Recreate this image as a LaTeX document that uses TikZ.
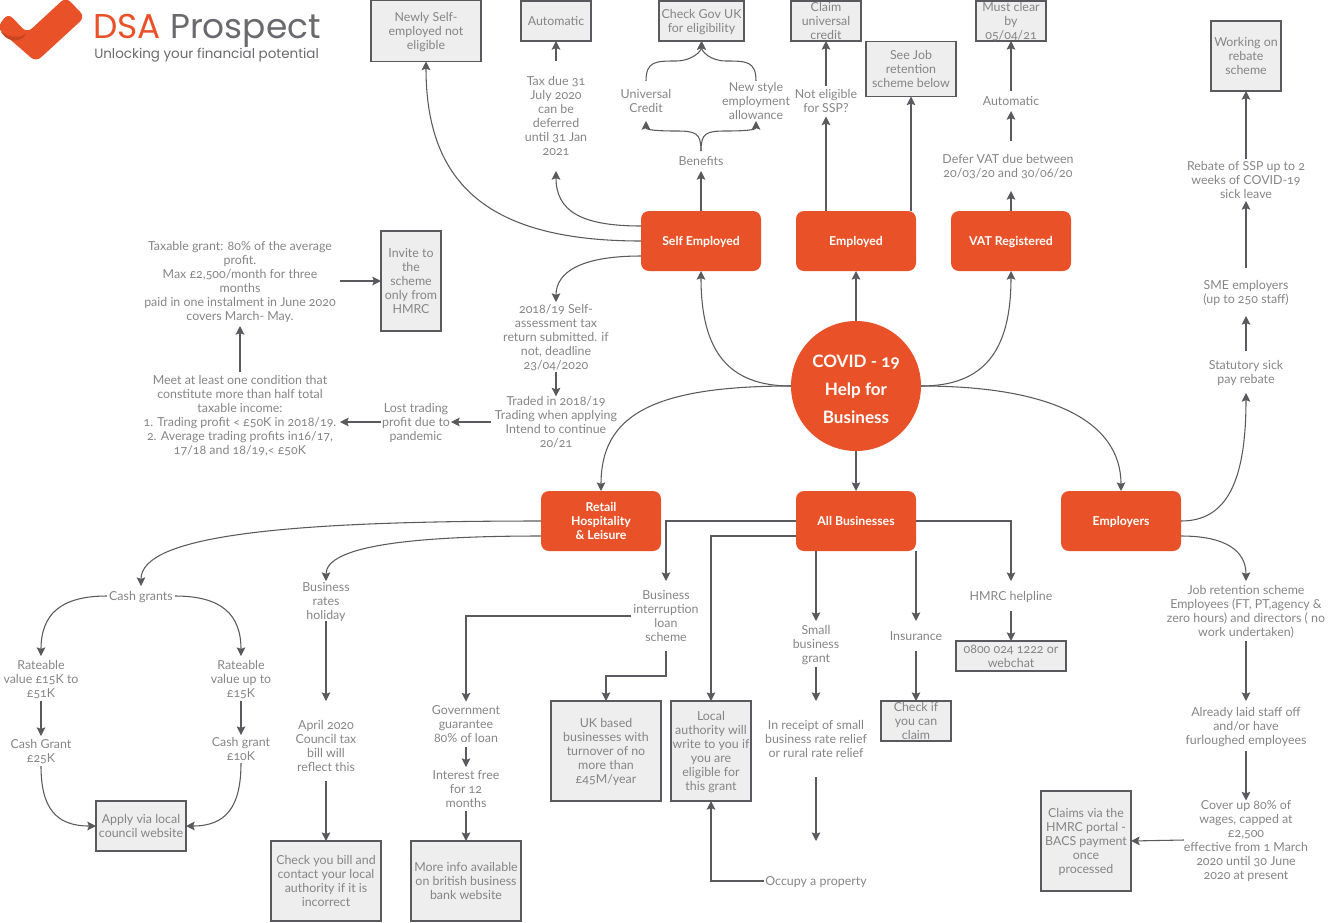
\documentclass[tikz,border=0pt]{standalone}
\usepackage{fontspec}
\usetikzlibrary{arrows.meta}
\setmainfont{Lato}[Numbers=OldStyle]
\newfontfamily\logofont{Poppins}
\definecolor{brand}{HTML}{E95228}
\definecolor{branddark}{HTML}{C9451F}
\definecolor{linec}{HTML}{5A5A5E}
\definecolor{textc}{HTML}{858585}
\definecolor{boxc}{HTML}{EEEEEE}
\definecolor{logoc}{HTML}{6A6A6E}
\begin{document}
\begin{tikzpicture}[
    x=0.75pt, y=-0.75pt,
    hub/.style={circle, fill=brand, text=white, minimum size=97.5pt, inner sep=0pt, outer sep=0pt, align=center, font=\fontsize{12.8}{21}\selectfont\bfseries},
    head/.style={rectangle, rounded corners=6pt, fill=brand, text=white, minimum width=90pt, minimum height=45pt, inner sep=0pt, outer sep=0pt, align=center, font=\fontsize{9.2}{10.5}\selectfont\bfseries, text depth=-1pt},
    txt/.style 2 args={rectangle, minimum width=#1*0.75pt, minimum height=#2*0.75pt, inner sep=0pt, outer sep=0pt, align=center, text=textc, font=\fontsize{9.3}{10.5}\selectfont, text depth=-1pt},
    info/.style 2 args={rectangle, draw=linec, line width=0.8pt, fill=boxc, minimum width=#1*0.75pt, minimum height=#2*0.75pt, inner sep=0pt, outer sep=0pt, align=center, text=textc, font=\fontsize{9.3}{10.5}\selectfont, text depth=-1pt},
    arr/.style={draw=linec, line width=0.8pt, -{Stealth[length=6.5pt, width=6.5pt, inset=1.2pt]}}
]
\useasboundingbox (0, 0) rectangle (1332, 922);

% Logo
\fill[brand, rounded corners=5pt] (8, 13) -- (27, 33) -- (66, -3) -- (85, 17) -- (36, 62) -- (-3, 28) -- cycle;
\fill[branddark, rounded corners=2pt] (0, 31) -- (6, 38) -- (14, 41) -- (22, 39) -- (27, 33) -- (20, 37) -- (8, 36) -- cycle;
\node[anchor=west, inner sep=0pt, font=\logofont\fontsize{25.8}{28}\selectfont] (brandname) at (93, 31) {\textcolor{brand}{DSA} \textcolor{logoc}{Prospect}};
\node[anchor=west, inner sep=0pt, text=logoc, font=\logofont\fontsize{10.1}{11}\selectfont] (tagline) at (94, 55) {Unlocking your financial potential};

% Centre
\node[hub] (covid) at (856, 386) {\rule{0pt}{14pt}COVID - 19\\Help for\\Business};

\node[head] (self) at (701, 241) {Self Employed};
\node[head] (employed) at (856, 241) {Employed};
\node[head] (vat) at (1011, 241) {VAT Registered};
\node[head] (retail) at (601, 521) {Retail\\Hospitality\\\& Leisure};
\node[head] (allbiz) at (856, 521) {All Businesses};
\node[head] (employers) at (1121, 521) {Employers};

% Haut
\node[info={110}{61}] (newly) at (426, 31) {Newly Self-\\employed not\\eligible};
\node[info={70}{40}] (autobox) at (556, 21) {Automatic};
\node[info={85}{40}, line width=1.2pt] (govuk) at (701.5, 21) {Check Gov UK\\for eligibility};
\node[info={70}{40}] (claimuc) at (826, 21) {Claim\\universal\\credit};
\node[info={90}{55}] (seejob) at (911, 69) {See Job\\retention\\scheme below};
\node[info={70}{40}] (mustclear) at (1011, 21) {Must clear\\by\\05/04/21};
\node[info={70}{70}] (working) at (1246, 56) {Working on\\rebate\\scheme};

\node[txt={70}{110}] (taxdue) at (556, 116) {Tax due 31\\July 2020\\can be\\deferred\\until 31 Jan\\2021};
\node[txt={60}{20}] (benefits) at (701, 161) {Benefits};
\node[txt={60}{40}] (ucredit) at (646, 101) {Universal\\Credit};
\node[txt={70}{40}] (newstyle) at (756, 101) {New style\\employment\\allowance};
\node[txt={70}{31}] (noteligible) at (826, 101) {Not eligible\\for SSP?};
\node[txt={150}{50}] (defer) at (1008, 166) {Defer VAT due between\\20/03/20 and 30/06/20};
\node[txt={70}{20}] (autovat) at (1011, 101) {Automatic};

\node[txt={130}{42}] (rebate) at (1246, 180) {Rebate of SSP up to 2\\weeks of COVID-19\\sick leave};
\node[txt={100}{48}] (sme) at (1246, 292) {SME employers\\(up to 250 staff)};
\node[txt={100}{42}] (statutory) at (1246, 372) {Statutory sick\\pay rebate};

% Gauche
\node[txt={200}{90}] (taxable) at (240, 281) {Taxable grant: 80\% of the average\\profit.\\Max £2,500/month for three\\months\\paid in one instalment in June 2020\\covers March- May.};
\node[info={60}{100}] (invite) at (411, 281) {Invite to\\the\\scheme\\only from\\HMRC};
\node[txt={200}{86}] (meet) at (240, 415) {Meet at least one condition that\\constitute more than half total\\taxable income:\\1. Trading profit < £50K in 2018/19.\\2. Average trading profits in16/17,\\17/18 and 18/19,< £50K};
\node[txt={70}{42}] (lost) at (416, 422) {Lost trading\\profit due to\\pandemic};
\node[txt={130}{42}] (traded) at (556, 422) {Traded in 2018/19\\Trading when applying\\Intend to continue\\20/21};
\node[txt={110}{70}] (assess) at (556, 337) {2018/19 Self-\\assessment tax\\return submitted. if\\not, deadline\\23/04/2020};

% Bas
\node[txt={68}{20}] (cashgrants) at (141, 596) {Cash grants};
\node[txt={80}{45}] (ratehigh) at (41, 678.5) {Rateable\\value £15K to\\£51K};
\node[txt={80}{45}] (ratelow) at (241, 678.5) {Rateable\\value up to\\£15K};
\node[txt={80}{30}] (granthigh) at (41, 751) {Cash Grant\\£25K};
\node[txt={80}{28}] (grantlow) at (241, 749) {Cash grant\\£10K};
\node[info={90}{50}] (apply) at (141, 826) {Apply via local\\council website};

\node[txt={60}{40}] (rates) at (326, 601) {Business\\rates\\holiday};
\node[txt={80}{70}] (april) at (326, 746) {April 2020\\Council tax\\bill will\\reflect this};
\coordinate (aprilin) at (326, 701);
\node[info={110}{80}] (checkbill) at (326, 881) {Check you bill and\\contact your local\\authority if it is\\incorrect};

\node[txt={70}{70}] (interrupt) at (666, 616) {Business\\interruption\\loan\\scheme};
\node[txt={80}{45}] (guarantee) at (466, 724) {Government\\guarantee\\80\% of loan};
\node[txt={80}{44}] (interest) at (466, 789) {Interest free\\for 12\\months};
\node[info={110}{80}] (moreinfo) at (466, 881) {More info available\\on british business\\bank website};
\node[info={110}{100}] (ukbased) at (606, 751) {UK based\\businesses with\\turnover of no\\more than\\£45M/year};
\node[info={80}{100}] (localauth) at (711, 751) {Local\\authority will\\write to you if\\you are\\eligible for\\this grant};

\node[txt={60}{46}] (small) at (816, 644) {Small\\business\\grant};
\node[txt={120}{76}] (receipt) at (816, 739) {In receipt of small\\business rate relief\\or rural rate relief};
\coordinate (occupyin) at (816, 841);
\node[txt={104}{20}] (occupy) at (816, 881) {Occupy a property};
\node[txt={60}{30}] (insurance) at (916, 636) {Insurance};
\node[info={70}{40}] (checkif) at (916, 721) {Check if\\you can\\claim};
\node[txt={90}{30}] (helpline) at (1011, 596) {HMRC helpline};
\node[info={110}{30}] (phone) at (1011, 656) {0800 024 1222 or\\webchat};

\node[txt={170}{60}] (jobret) at (1246, 611) {Job retention scheme\\Employees (FT, PT,agency \&\\zero hours)  and directors ( no\\work undertaken)};
\node[txt={130}{50}] (already) at (1246, 726) {Already laid staff off\\and/or have\\furloughed employees};
\node[txt={120}{78}] (cover) at (1246, 840) {Cover up 80\% of\\wages, capped at\\£2,500\\effective from 1 March\\2020 until 30 June\\2020 at present};
\node[info={90}{100}] (claims) at (1086, 841) {Claims via the\\HMRC portal -\\BACS payment\\once\\processed};

% Liens du centre
\draw[arr] (covid.north) -- (employed.south);
\draw[arr] (covid.south) -- (allbiz.north);
\draw[arr] (covid.west) .. controls +(-63,0) and +(0,80) .. (self.south);
\draw[arr] (covid.west) .. controls +(-140,0) and +(0,-75) .. (retail.north);
\draw[arr] (covid.east) .. controls +(63,0) and +(0,80) .. (vat.south);
\draw[arr] (covid.east) .. controls +(130,0) and +(0,-70) .. (employers.north);

% Liens Self Employed
\draw[arr] ([yshift=11.25pt]self.west) .. controls +(-60,0) and +(0,40) .. (taxdue.south);
\draw[arr] (taxdue.north) -- (autobox.south);
\draw[arr] (self.west) .. controls +(-150,0) and +(0,125) .. (newly.south);
\draw[arr] ([yshift=-11.25pt]self.west) .. controls +(-60,0) and +(0,-30) .. (assess.north);
\draw[arr] (assess.south) -- (traded.north);
\draw[arr] (traded.west) -- (lost.east);
\draw[arr] (lost.west) -- (meet.east |- lost.west);
\draw[arr] (meet.north) -- (taxable.south);
\draw[arr] (taxable.east) -- (invite.west);
\draw[arr] (self.north) -- (benefits.south);
\draw[arr] (benefits.north) .. controls +(0,-18) and +(20,0) .. ++(-25,-20) .. controls +(-18,0) and +(0,9) .. (ucredit.south);
\draw[arr] (benefits.north) .. controls +(0,-18) and +(-20,0) .. ++(25,-20) .. controls +(18,0) and +(0,9) .. (newstyle.south);
\draw[arr] (ucredit.north) .. controls +(0,-20) and +(-20,0) .. ++(30,-20) .. controls +(16,0) and +(0,10) .. (govuk.south);
\draw[arr] (newstyle.north) .. controls +(0,-20) and +(20,0) .. ++(-30,-20) .. controls +(-16,0) and +(0,10) .. (govuk.south);

% Liens Employed et VAT
\draw[arr] (employed.north -| noteligible.south) -- (noteligible.south);
\draw[arr] (noteligible.north) -- (claimuc.south);
\draw[arr] (employed.north -| seejob.south) -- (seejob.south);
\draw[arr] (vat.north) -- (defer.south -| vat.north);
\draw[arr] (defer.north -| autovat.south) -- (autovat.south);
\draw[arr] (autovat.north) -- (mustclear.south);

% Liens Employers
\draw[arr] (employers.east) .. controls +(45,0) and +(0,90) .. (statutory.south);
\draw[arr] (statutory.north) -- (sme.south);
\draw[arr] (sme.north) -- (rebate.south);
\draw[arr] (rebate.north) -- (working.south);
\draw[arr] ([yshift=-11.25pt]employers.east) .. controls +(45,0) and +(0,-30) .. (jobret.north);
\draw[arr] (jobret.south) -- (already.north);
\draw[arr] (already.south) -- (cover.north);
\draw[arr] (cover.west) -- (claims.east);

% Liens Retail
\draw[arr] (retail.west) .. controls +(-260,0) and +(0,-50) .. (cashgrants.north);
\draw[arr] ([yshift=-11.25pt]retail.west) .. controls +(-130,0) and +(0,-35) .. (rates.north);
\draw[arr] (cashgrants.west) .. controls +(-46,0) and +(0,-42) .. (ratehigh.north);
\draw[arr] (cashgrants.east) .. controls +(46,0) and +(0,-42) .. (ratelow.north);
\draw[arr] (ratehigh.south) -- (granthigh.north);
\draw[arr] (ratelow.south) -- (grantlow.north);
\draw[arr] (granthigh.south) .. controls +(0,42) and +(-40,0) .. (apply.west);
\draw[arr] (grantlow.south) .. controls +(0,44) and +(40,0) .. (apply.east);
\draw[arr] (rates.south) -- (aprilin);
\draw[arr] (april.south) -- (checkbill.north);

% Liens All Businesses
\draw[arr] (allbiz.west) -| (interrupt.north);
\draw[arr] ([yshift=-11.25pt]allbiz.west) -| (localauth.north);
\draw[arr] (allbiz.east) -| (helpline.north);
\draw[arr] (allbiz.south -| small.north) -- (small.north);
\draw[arr] (allbiz.south -| insurance.north) -- (insurance.north);
\draw[arr] (interrupt.west) -| (guarantee.north);
\draw[arr] (interrupt.south) -- ++(0,25) -| (ukbased.north);
\draw[arr] (guarantee.south) -- (interest.north);
\draw[arr] (interest.south) -- (moreinfo.north);
\draw[arr] (small.south) -- (receipt.north);
\draw[arr] (receipt.south) -- (occupyin);
\draw[arr] (occupy.west) -| (localauth.south);
\draw[arr] (insurance.south) -- (checkif.north);
\draw[arr] (helpline.south) -- (phone.north);
\end{tikzpicture}
\end{document}
